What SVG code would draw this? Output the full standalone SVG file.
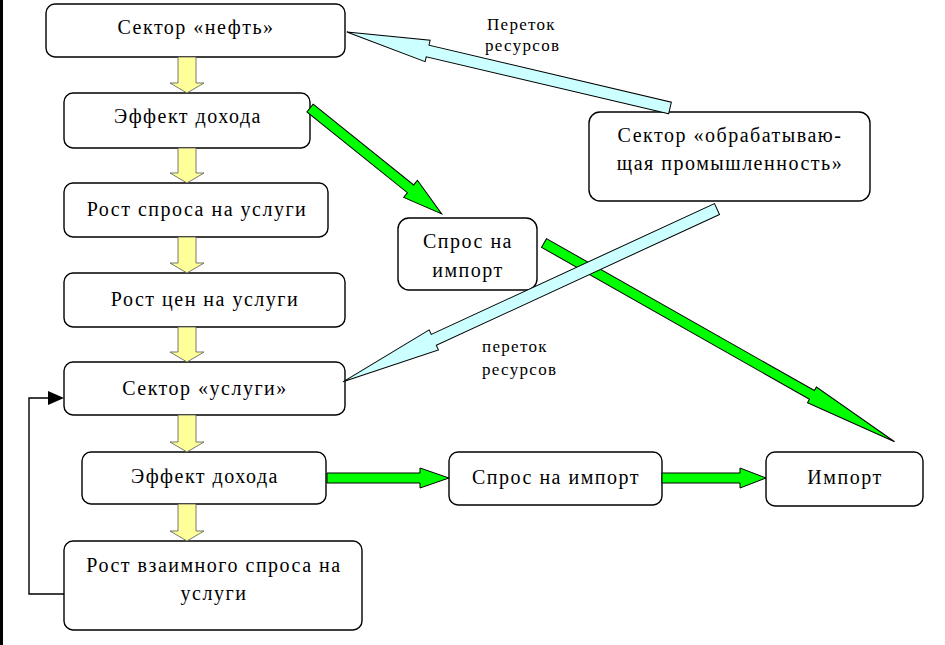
<svg xmlns="http://www.w3.org/2000/svg" width="945" height="645" viewBox="0 0 945 645">
<style>
.box{fill:#fff;stroke:#000;stroke-width:1.4}
.t{font-family:"Liberation Serif","Times New Roman",serif;font-size:20px;letter-spacing:1.5px;text-anchor:middle;fill:#000}
.lbl{font-family:"Liberation Serif","Times New Roman",serif;font-size:17px;letter-spacing:1.3px;fill:#000}
.ya{fill:#ffff99;stroke:#555;stroke-width:0.8}
.ga{fill:#00ff00;stroke:#000;stroke-width:1}
.ba{fill:#ccffff;stroke:#000;stroke-width:1}
.fb{fill:none;stroke:#000;stroke-width:1.4}
</style>
<rect x="0" y="0" width="945" height="645" fill="#fff"/>
<rect x="0" y="0" width="3" height="645" fill="#000"/>

<g id="n1"><rect class="box" x="46" y="4" width="299" height="53" rx="9"/><text class="t" x="196" y="34">Сектор «нефть»</text></g>
<g id="n2"><rect class="box" x="64" y="93" width="246" height="55" rx="9"/><text class="t" x="188" y="123">Эффект дохода</text></g>
<g id="n3"><rect class="box" x="64" y="183" width="264" height="54" rx="9"/><text class="t" x="197" y="216">Рост спроса на услуги</text></g>
<g id="n4"><rect class="box" x="64" y="273" width="281" height="54" rx="9"/><text class="t" x="205" y="306">Рост цен на услуги</text></g>
<g id="n5"><rect class="box" x="64" y="362" width="281" height="53" rx="9"/><text class="t" x="205" y="395">Сектор «услуги»</text></g>
<g id="n6"><rect class="box" x="82" y="452" width="244" height="52" rx="9"/><text class="t" x="205" y="483">Эффект дохода</text></g>
<g id="n7"><rect class="box" x="64" y="541" width="298" height="89" rx="9"/><text class="t" x="214" y="572">Рост взаимного спроса на</text><text class="t" x="214" y="600">услуги</text></g>
<g id="n8"><rect class="box" x="449" y="452" width="213" height="53" rx="9"/><text class="t" x="556" y="484">Спрос на импорт</text></g>
<g id="n9"><rect class="box" x="766" y="452" width="157" height="54" rx="9"/><text class="t" x="845" y="484">Импорт</text></g>
<g id="n10"><rect class="box" x="398" y="218" width="139" height="72" rx="11"/><text class="t" x="468" y="248">Спрос на</text><text class="t" x="468" y="277">импорт</text></g>
<g id="n11"><rect class="box" x="589" y="112" width="281" height="89" rx="11"/><text class="t" x="730" y="142">Сектор «обрабатываю-</text><text class="t" x="730" y="170">щая промышленность»</text></g>

<g id="connectors">
<polygon class="ya" points="178,57 196,57 196,83 204,83 187,93 170,83 178,83"/>
<polygon class="ya" points="178,148 196,148 196,173 204,173 187,183 170,173 178,173"/>
<polygon class="ya" points="178,237 196,237 196,263 204,263 187,273 170,263 178,263"/>
<polygon class="ya" points="178,327 196,327 196,352 204,352 187,362 170,352 178,352"/>
<polygon class="ya" points="178,415 196,415 196,442 204,442 187,452 170,442 178,442"/>
<polygon class="ya" points="178,504 196,504 196,531 204,531 187,541 170,531 178,531"/>

<polygon class="ga" transform="translate(310,108) rotate(38.8)" points="0,-5 129,-5 129,-11 169,0 129,11 129,5 0,5"/>
<polygon class="ga" transform="translate(544,243) rotate(29.55)" points="0,-5 308,-5 308,-9 403,0 308,9 308,5 0,5"/>
<polygon class="ga" points="327,473 420,473 420,468 449,478 420,488 420,483 327,483"/>
<polygon class="ga" points="662,473 740,473 740,468 766,478 740,488 740,483 662,483"/>

<polygon class="ba" transform="translate(670,108) rotate(-166.76)" points="0,-6 249,-6 249,-11 332,0 249,11 249,6 0,6"/>
<polygon class="ba" transform="translate(717,209) rotate(155.2)" points="0,-6 312,-6 312,-11 412,0 312,11 312,6 0,6"/>

<path class="fb" d="M64,594 H29 V398 H50"/>
<polygon points="48,391 64,398 48,405" fill="#000"/>

<text class="lbl" x="487" y="30">Переток</text>
<text class="lbl" x="485" y="51">ресурсов</text>
<text class="lbl" x="482" y="352">переток</text>
<text class="lbl" x="482" y="375">ресурсов</text>
</g>
</svg>
